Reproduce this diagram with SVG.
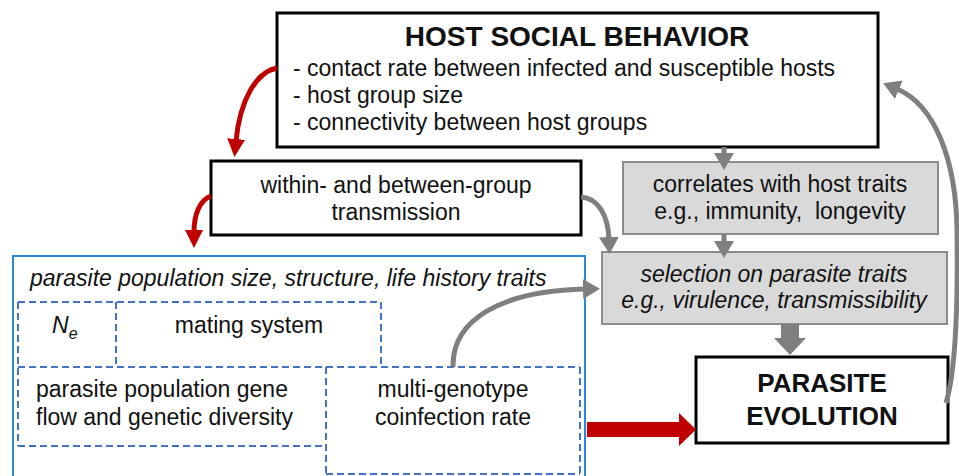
<svg xmlns="http://www.w3.org/2000/svg" width="959" height="476" viewBox="0 0 959 476">
  <defs>
    <style>
      text { font-family: "Liberation Sans", Arial, sans-serif; font-size: 23px; fill: #111; }
      .c { text-anchor: middle; }
      .it { font-style: italic; }
      .title { font-weight: bold; font-size: 28px; }
      .big { font-weight: bold; font-size: 26px; }
      .box { fill: #fff; stroke: #000; stroke-width: 3; }
      .gbox { fill: #D9D9D9; stroke: #8C8C8C; stroke-width: 2; }
      .blue { fill: #fff; stroke: #2A88D8; stroke-width: 2; }
      .dash { fill: none; stroke: #4472C4; stroke-width: 2; stroke-dasharray: 7 4; }
      .red { fill: none; stroke: #C00000; stroke-width: 5; }
      .gray { fill: none; stroke: #7F7F7F; stroke-width: 5; }
    </style>
    <marker id="headRed" markerUnits="userSpaceOnUse" markerWidth="18" markerHeight="18" refX="2" refY="9" orient="auto">
      <path d="M0,0 L18,9 L0,18 Z" fill="#C00000"/>
    </marker>
    <marker id="headGray" markerUnits="userSpaceOnUse" markerWidth="18" markerHeight="20" refX="2" refY="10" orient="auto">
      <path d="M0,0 L17,10 L0,20 Z" fill="#7F7F7F"/>
    </marker>
  </defs>

  <rect width="959" height="476" fill="#fff"/>

  <!-- parasite population container; dashed sub-boxes share their edges -->
  <g id="population">
    <rect class="blue" x="13" y="256" width="572" height="240"/>
    <text class="it" x="30" y="286">parasite population size, structure, life history traits</text>
    <path class="dash" d="M18,302 H381 M18,302 V446 M381,302 V367 M116,302 V367 M18,367 H580 M18,446 H326 M326,367 V474 M580,367 V474 M326,474 H580"/>
  </g>
  <g id="ne">
    <text class="it" x="52" y="333">N<tspan font-size="16" dy="6">e</tspan></text>
  </g>
  <g id="mating">
    <text class="c" x="249" y="333">mating system</text>
  </g>
  <g id="geneflow">
    <text x="36" y="397">parasite population gene</text>
    <text x="36" y="425">flow and genetic diversity</text>
  </g>
  <g id="coinfection">
    <text class="c" x="453" y="397">multi-genotype</text>
    <text class="c" x="453" y="425">coinfection rate</text>
  </g>

  <!-- host social behavior -->
  <g id="host">
    <rect class="box" x="277" y="13" width="601" height="134"/>
    <text class="title c" x="577" y="46">HOST SOCIAL BEHAVIOR</text>
    <text x="293" y="76">- contact rate between infected and susceptible hosts</text>
    <text x="293" y="103">- host group size</text>
    <text x="293" y="130">- connectivity between host groups</text>
  </g>

  <g id="transmission">
    <rect class="box" x="211" y="161" width="370" height="74" stroke-width="2.5"/>
    <text class="c" x="396" y="193">within- and between-group</text>
    <text class="c" x="396" y="220">transmission</text>
  </g>

  <g id="correlates">
    <rect class="gbox" x="623" y="162" width="315" height="72"/>
    <text class="c" x="780" y="192">correlates with host traits</text>
    <text class="c" x="780" y="219" style="white-space:pre">e.g., immunity,  longevity</text>
  </g>

  <g id="selection">
    <rect class="gbox" x="602" y="252" width="345" height="72"/>
    <text class="c it" x="774" y="282">selection on parasite traits</text>
    <text class="c it" x="774" y="308">e.g., virulence, transmissibility</text>
  </g>

  <g id="evolution">
    <rect class="box" x="696" y="357" width="252" height="86"/>
    <text class="big c" x="822" y="392">PARASITE</text>
    <text class="big c" x="822" y="425">EVOLUTION</text>
  </g>

  <!-- connectors -->
  <g id="connectors">
    <path class="red" d="M277,68 C256,72 240,100 236,141" marker-end="url(#headRed)"/>
    <path class="red" d="M211,196 C200,200 194,214 194,232" marker-end="url(#headRed)"/>
    <path class="gray" d="M581,197 C598,198 608,215 609,239" marker-end="url(#headGray)"/>
    <path class="gray" d="M724,147 L724,155" marker-end="url(#headGray)"/>
    <path class="gray" d="M724,234 L724,243" marker-end="url(#headGray)"/>
    <path class="gray" d="M453,367 C452,320 500,291 585,289" marker-end="url(#headGray)"/>
    <path class="gray" d="M946,403 C956,370 958,300 957,230 C956,160 935,105 897,89" marker-end="url(#headGray)"/>
    <path d="M781,324 L799,324 L799,338 L806,338 L790,355 L774,338 L781,338 Z" fill="#7F7F7F"/>
    <path d="M587,422 L679,422 L679,413 L696,429.5 L679,446 L679,437 L587,437 Z" fill="#C00000"/>
  </g>
</svg>
